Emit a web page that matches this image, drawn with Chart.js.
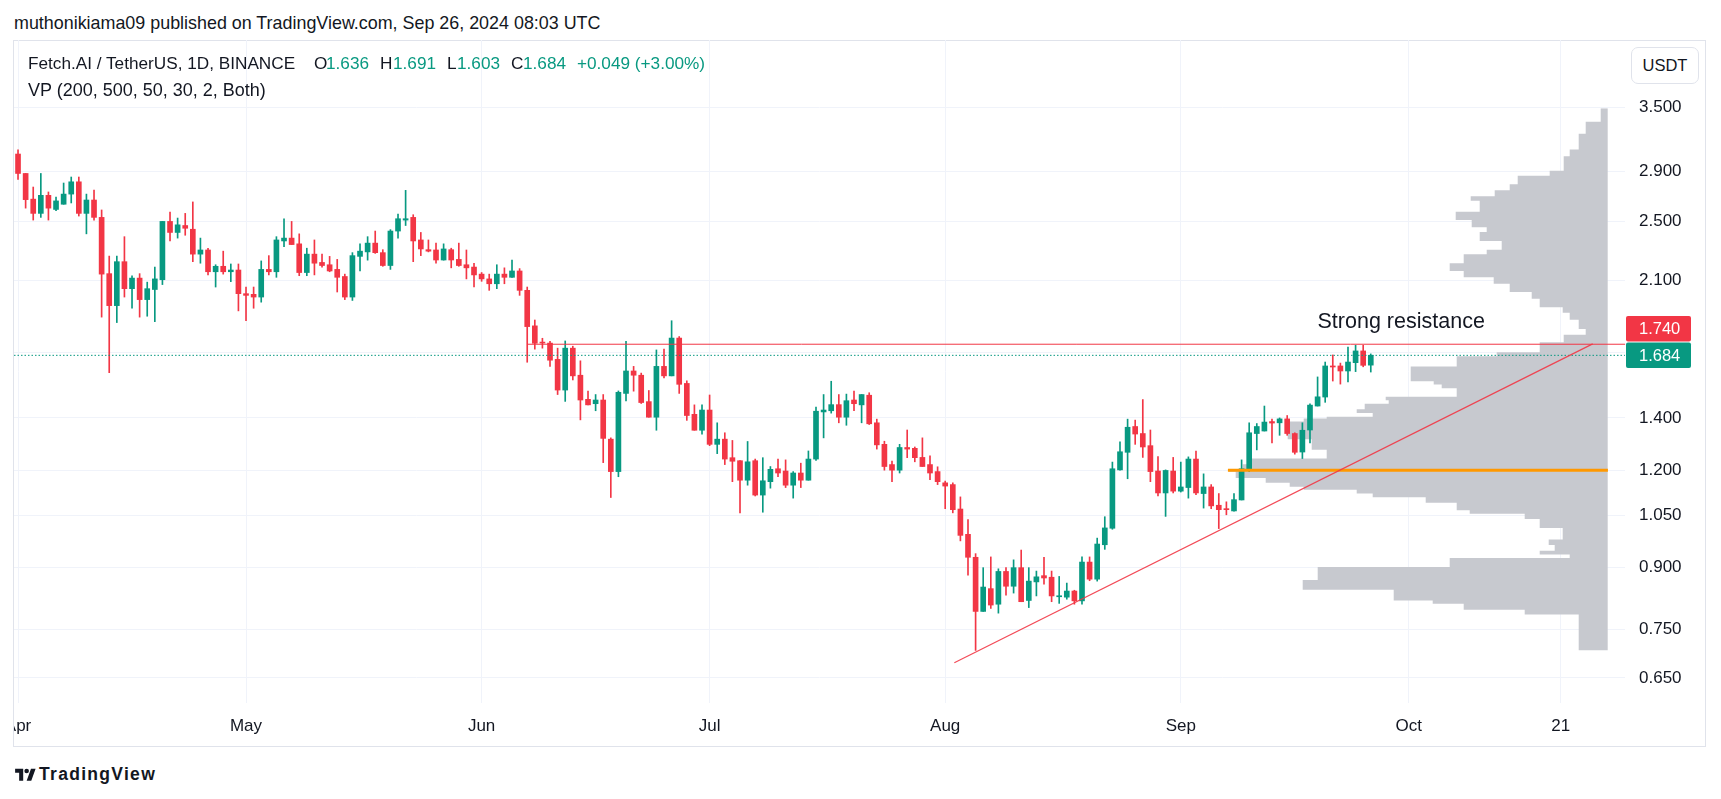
<!DOCTYPE html>
<html>
<head>
<meta charset="utf-8">
<script src="https://cdn.jsdelivr.net/npm/chart.js@4.4.1/dist/chart.umd.min.js"></script>
<style>
  body { margin: 0; width: 1721px; height: 799px; background: #fff; position: relative; overflow: hidden;
         font-family: 'Liberation Sans', Arial, sans-serif; color: #131722; }
  .abs { position: absolute; white-space: nowrap; }
  #frame { left: 13px; top: 40px; width: 1693px; height: 707px; box-sizing: border-box; border: 1px solid #e0e3eb; }
  #wrap { left: 14px; top: 40px; width: 1691px; height: 706px; }
  .lg { position: absolute; top: 53px; font-size: 17.2px; line-height: 20px; white-space: nowrap; }
  .v { color: #089981; }
  #vp { left: 28px; top: 80px; font-size: 18px; line-height: 20px; }
  #usdt { left: 1631px; top: 47px; width: 68px; height: 37px; box-sizing: border-box; border: 1px solid #e0e3eb;
          border-radius: 7px; font-size: 16.5px; line-height: 35px; text-align: center; background: #fff; }
  #logo { left: 15px; top: 763px; font-size: 17.5px; font-weight: 600; letter-spacing: 1.3px; line-height: 22px; }
  #logo svg { vertical-align: -2px; margin-right: 3px; }
</style>
</head>
<body>
<div class="abs" style="left:14px; top:12px; font-size:17.9px; line-height:22px;">muthonikiama09 published on TradingView.com, Sep 26, 2024 08:03 UTC</div>
<div class="abs" id="frame"></div>
<div class="abs" id="wrap"><canvas id="chart" width="1691" height="706"></canvas></div>
<div class="lg" style="left:28px">Fetch.AI / TetherUS, 1D, BINANCE</div>
<div class="lg" style="left:314px">O</div><div class="lg v" style="left:326px">1.636</div>
<div class="lg" style="left:380px">H</div><div class="lg v" style="left:393px">1.691</div>
<div class="lg" style="left:447px">L</div><div class="lg v" style="left:457px">1.603</div>
<div class="lg" style="left:511px">C</div><div class="lg v" style="left:523px">1.684</div>
<div class="lg v" style="left:577px">+0.049 (+3.00%)</div>
<div class="abs" id="vp">VP (200, 500, 50, 30, 2, Both)</div>
<div class="abs" id="usdt">USDT</div>
<div class="abs" id="logo"><svg width="21" height="15" viewBox="0 0 36 26"><path fill="#131722" d="M14 24H7V10H0V3h14v21zM28 24h-8l7.5-21h8L28 24z"/><circle fill="#131722" cx="20" cy="7" r="4"/></svg>TradingView</div>

<script>
// daily candles, index 0 = Apr 1 2024 ... 178 = Sep 26 2024
const open = [
  3.05, 2.88, 2.67, 2.56, 2.70, 2.59, 2.63, 2.71, 2.81, 2.56,
  2.663, 2.53, 2.143, 1.95, 2.22, 2.05, 2.115, 1.985, 2.045, 2.105,
  2.50, 2.42, 2.47, 2.443, 2.27, 2.298, 2.155, 2.19, 2.155, 2.166,
  2.02, 2.016, 2.00, 2.17, 2.155, 2.36, 2.38, 2.34, 2.15, 2.27,
  2.215, 2.20, 2.17, 2.125, 2.00, 2.255, 2.285, 2.345, 2.28, 2.195,
  2.43, 2.51, 2.53, 2.367, 2.30, 2.298, 2.231, 2.30, 2.235, 2.20,
  2.185, 2.14, 2.11, 2.08, 2.14, 2.12, 2.16, 2.04, 1.837, 1.749,
  1.746, 1.664, 1.52, 1.72, 1.588, 1.479, 1.46, 1.476, 1.315, 1.195,
  1.505, 1.608, 1.588, 1.469, 1.403, 1.63, 1.585, 1.772, 1.55, 1.415,
  1.35, 1.433, 1.295, 1.315, 1.245, 1.234, 1.165, 1.234, 1.115, 1.16,
  1.205, 1.197, 1.148, 1.19, 1.165, 1.24, 1.425, 1.43, 1.456, 1.403,
  1.476, 1.455, 1.497, 1.38, 1.295, 1.22, 1.20, 1.283, 1.28, 1.246,
  1.22, 1.195, 1.156, 1.15, 1.07, 0.993, 0.928, 0.791, 0.846, 0.808,
  0.89, 0.852, 0.90, 0.817, 0.863, 0.879, 0.875, 0.826, 0.825, 0.84,
  0.816, 0.915, 0.87, 0.963, 1.011, 1.201, 1.265, 1.365, 1.337, 1.29,
  1.197, 1.122, 1.197, 1.128, 1.14, 1.24, 1.12, 1.142, 1.082, 1.07,
  1.064, 1.099, 1.203, 1.337, 1.347, 1.385, 1.38, 1.396, 1.337, 1.266,
  1.351, 1.45, 1.489, 1.632, 1.632, 1.608, 1.648, 1.706, 1.636
];
const high = [
  3.087, 2.88, 2.767, 2.88, 2.727, 2.687, 2.80, 2.85, 2.85, 2.71,
  2.743, 2.586, 2.257, 2.257, 2.39, 2.13, 2.143, 2.09, 2.185, 2.50,
  2.57, 2.525, 2.56, 2.648, 2.38, 2.31, 2.20, 2.29, 2.205, 2.205,
  2.06, 2.06, 2.225, 2.26, 2.39, 2.52, 2.50, 2.41, 2.31, 2.367,
  2.27, 2.255, 2.235, 2.14, 2.28, 2.34, 2.39, 2.43, 2.30, 2.44,
  2.555, 2.74, 2.55, 2.42, 2.367, 2.345, 2.34, 2.31, 2.345, 2.298,
  2.21, 2.15, 2.14, 2.20, 2.18, 2.23, 2.175, 2.06, 1.869, 1.771,
  1.755, 1.72, 1.757, 1.73, 1.657, 1.515, 1.50, 1.50, 1.32, 1.516,
  1.755, 1.63, 1.598, 1.518, 1.711, 1.715, 1.865, 1.78, 1.562, 1.455,
  1.455, 1.498, 1.38, 1.34, 1.31, 1.234, 1.306, 1.24, 1.245, 1.213,
  1.24, 1.237, 1.195, 1.225, 1.27, 1.446, 1.50, 1.56, 1.50, 1.502,
  1.515, 1.50, 1.508, 1.395, 1.307, 1.233, 1.295, 1.351, 1.285, 1.32,
  1.252, 1.212, 1.162, 1.156, 1.109, 1.037, 0.938, 0.90, 0.929, 0.897,
  0.90, 0.921, 0.948, 0.90, 0.891, 0.928, 0.891, 0.877, 0.86, 0.842,
  0.929, 0.929, 0.982, 1.046, 1.229, 1.305, 1.395, 1.391, 1.478, 1.351,
  1.249, 1.201, 1.246, 1.229, 1.248, 1.27, 1.187, 1.15, 1.12, 1.093,
  1.12, 1.237, 1.38, 1.377, 1.45, 1.395, 1.40, 1.41, 1.34, 1.38,
  1.46, 1.58, 1.651, 1.686, 1.646, 1.725, 1.735, 1.735, 1.691
];
const low = [
  2.83, 2.60, 2.51, 2.53, 2.51, 2.58, 2.63, 2.64, 2.54, 2.41,
  2.51, 1.885, 1.60, 1.855, 2.00, 1.935, 1.885, 1.89, 1.86, 2.075,
  2.36, 2.38, 2.40, 2.22, 2.21, 2.135, 2.06, 2.14, 2.093, 1.92,
  1.865, 1.935, 1.97, 2.135, 2.12, 2.32, 2.335, 2.13, 2.13, 2.135,
  2.185, 2.155, 2.03, 1.985, 1.98, 2.16, 2.23, 2.275, 2.19, 2.17,
  2.38, 2.47, 2.22, 2.26, 2.285, 2.21, 2.23, 2.18, 2.19, 2.11,
  2.06, 2.095, 2.04, 2.05, 2.08, 2.12, 2.01, 1.65, 1.715, 1.72,
  1.63, 1.50, 1.47, 1.566, 1.392, 1.455, 1.43, 1.227, 1.107, 1.177,
  1.472, 1.515, 1.461, 1.403, 1.35, 1.575, 1.585, 1.505, 1.39, 1.35,
  1.334, 1.29, 1.26, 1.22, 1.16, 1.058, 1.148, 1.112, 1.06, 1.138,
  1.177, 1.14, 1.105, 1.14, 1.165, 1.235, 1.32, 1.42, 1.38, 1.37,
  1.43, 1.38, 1.373, 1.277, 1.20, 1.16, 1.19, 1.245, 1.23, 1.213,
  1.167, 1.15, 1.071, 1.058, 0.974, 0.88, 0.705, 0.791, 0.798, 0.787,
  0.83, 0.835, 0.814, 0.80, 0.828, 0.857, 0.814, 0.81, 0.82, 0.808,
  0.808, 0.866, 0.865, 0.95, 1.008, 1.20, 1.17, 1.295, 1.246, 1.16,
  1.112, 1.047, 1.122, 1.125, 1.105, 1.116, 1.073, 1.071, 1.01, 1.052,
  1.063, 1.099, 1.195, 1.274, 1.347, 1.30, 1.33, 1.33, 1.258, 1.242,
  1.30, 1.45, 1.466, 1.561, 1.547, 1.557, 1.605, 1.628, 1.603
];
const close = [
  2.88, 2.666, 2.56, 2.70, 2.60, 2.656, 2.71, 2.81, 2.56, 2.663,
  2.53, 2.14, 1.95, 2.22, 2.05, 2.115, 1.985, 2.05, 2.11, 2.50,
  2.42, 2.475, 2.45, 2.27, 2.298, 2.155, 2.19, 2.155, 2.166, 2.02,
  2.01, 2.00, 2.17, 2.155, 2.367, 2.38, 2.335, 2.15, 2.27, 2.21,
  2.195, 2.16, 2.12, 2.00, 2.26, 2.29, 2.345, 2.28, 2.195, 2.43,
  2.52, 2.52, 2.36, 2.305, 2.29, 2.231, 2.305, 2.231, 2.195, 2.18,
  2.135, 2.11, 2.08, 2.14, 2.12, 2.16, 2.04, 1.833, 1.745, 1.746,
  1.66, 1.52, 1.72, 1.585, 1.476, 1.455, 1.476, 1.318, 1.195, 1.51,
  1.608, 1.588, 1.465, 1.403, 1.63, 1.585, 1.772, 1.546, 1.41, 1.35,
  1.433, 1.295, 1.315, 1.24, 1.232, 1.165, 1.23, 1.115, 1.163, 1.203,
  1.19, 1.148, 1.19, 1.165, 1.24, 1.428, 1.433, 1.456, 1.403, 1.473,
  1.46, 1.50, 1.376, 1.293, 1.213, 1.20, 1.283, 1.277, 1.245, 1.213,
  1.19, 1.16, 1.145, 1.068, 0.99, 0.928, 0.791, 0.85, 0.806, 0.89,
  0.852, 0.90, 0.814, 0.865, 0.876, 0.873, 0.828, 0.828, 0.84, 0.816,
  0.915, 0.87, 0.965, 1.012, 1.205, 1.267, 1.362, 1.335, 1.285, 1.195,
  1.122, 1.199, 1.128, 1.142, 1.24, 1.122, 1.142, 1.08, 1.068, 1.068,
  1.10, 1.205, 1.34, 1.365, 1.383, 1.379, 1.396, 1.337, 1.265, 1.35,
  1.454, 1.49, 1.632, 1.627, 1.608, 1.651, 1.706, 1.635, 1.684
];

// time axis (days since Apr 1)
const timeTicks = [0, 30, 61, 91, 122, 153, 183, 203];
const timeLabels = ['Apr', 'May', 'Jun', 'Jul', 'Aug', 'Sep', 'Oct', '21'];
const priceTicks = [0.65, 0.75, 0.9, 1.05, 1.2, 1.4, 1.7, 2.1, 2.5, 2.9, 3.5];
const hiddenPriceLabels = [1.7];

// volume profile: lower price of each row and its volume
const vpLow = [
  0.705, 0.784, 0.795, 0.809, 0.817, 0.843, 0.868, 0.902, 0.926, 0.936,
  0.946, 0.962, 0.978, 1.012, 1.039, 1.055, 1.066, 1.090, 1.108, 1.120,
  1.133, 1.143, 1.156, 1.173, 1.194, 1.204, 1.221, 1.242, 1.275, 1.315,
  1.385, 1.398, 1.405, 1.420, 1.436, 1.460, 1.475, 1.490, 1.510, 1.528,
  1.545, 1.560, 1.630, 1.680, 1.700, 1.750, 1.790, 1.820, 1.870, 1.910,
  1.940, 1.990, 2.030, 2.080, 2.120, 2.160, 2.210, 2.270, 2.300, 2.360,
  2.423, 2.458, 2.510, 2.573, 2.658, 2.693, 2.740, 2.790, 2.860, 2.904,
  3.030, 3.090, 3.237, 3.356
];
const vpVolume = [
  29, 83, 144, 175, 214, 305, 290, 158, 38, 68,
  53, 59, 45, 68, 83, 138, 151, 182, 235, 251,
  304, 318, 342, 372, 379, 365, 356, 281, 296, 320,
  304, 281, 235, 251, 243, 219, 222, 151, 151, 166,
  174, 197, 151, 111, 68, 44, 22, 29, 38, 45,
  68, 76, 98, 114, 144, 158, 144, 121, 106, 128,
  121, 136, 152, 128, 137, 113, 98, 90, 58, 44,
  38, 29, 22, 7
];
const vpTop = 3.49;

const lastPrice = 1.684;
const resistance = 1.740;
const resistanceFrom = 67;
const pocPrice = 1.2;
const pocDays = [159.2, 209.2];
const trendDays = [123.2, 207.2];
const trendPrices = [0.68, 1.742];
const note = { text: 'Strong resistance', day: 182, price: 1.825 };

const UP = '#089981', DOWN = '#F23645', GRID = '#f0f3fa', TEXT = '#131722';
const FONT = "'Liberation Sans', Arial, sans-serif";
const X_MIN = -0.53, X_MAX = 211.45;

const days = close.map((_, i) => i);
const candleColors = days.map(i => close[i] >= open[i] ? UP : DOWN);
const wicks = days.map(i => ({ x: i, y: [low[i], high[i]] }));
const bodies = days.map(i => ({ x: i, y: [Math.min(open[i], close[i]), Math.max(open[i], close[i])] }));
const vpPoints = vpLow.map((p, i) => ({ x: vpVolume[i], y: p }));
vpPoints.push({ x: 0, y: vpTop });

const priceTags = {
    id: 'priceTags',
    afterDraw(chart) {
        const { ctx, chartArea, scales: { y } } = chart;
        const h = 25.5, w = 65, x0 = chartArea.right + 1;
        const gTop = y.getPixelForValue(lastPrice) - h / 2;
        let rTop = y.getPixelForValue(resistance) - h / 2;
        if (rTop + h > gTop - 1) rTop = gTop - 1 - h;
        ctx.save();
        ctx.font = '16.5px ' + FONT;
        ctx.textBaseline = 'middle';
        ctx.textAlign = 'left';
        [[lastPrice, UP, gTop], [resistance, DOWN, rTop]].forEach(([v, c, top]) => {
            ctx.fillStyle = c;
            ctx.beginPath();
            ctx.roundRect(x0, top, w, h, 2);
            ctx.fill();
            ctx.fillStyle = '#fff';
            ctx.fillText(v.toFixed(3), chartArea.right + 14, top + h / 2 + 1);
        });
        ctx.restore();
    }
};

const noteText = {
    id: 'noteText',
    afterDatasetsDraw(chart) {
        const { ctx, scales: { x, y } } = chart;
        ctx.save();
        ctx.font = '21.5px ' + FONT;
        ctx.fillStyle = TEXT;
        ctx.textAlign = 'center';
        ctx.textBaseline = 'alphabetic';
        ctx.fillText(note.text, x.getPixelForValue(note.day), y.getPixelForValue(note.price));
        ctx.restore();
    }
};

new Chart(document.getElementById('chart'), {
    type: 'bar',
    data: {
        datasets: [
            {
                type: 'line', label: 'trend',
                data: trendDays.map((d, i) => ({ x: d, y: trendPrices[i] })),
                borderColor: 'rgba(242,54,69,0.9)', borderWidth: 1.2, pointRadius: 0, tension: 0
            },
            {
                type: 'line', label: 'poc',
                data: pocDays.map(d => ({ x: d, y: pocPrice })),
                borderColor: '#ff9800', borderWidth: 3, pointRadius: 0
            },
            {
                type: 'line', label: 'resistance',
                data: [{ x: resistanceFrom, y: resistance }, { x: X_MAX, y: resistance }],
                borderColor: DOWN, borderWidth: 1, pointRadius: 0
            },
            {
                type: 'line', label: 'last',
                data: [{ x: X_MIN, y: lastPrice }, { x: X_MAX, y: lastPrice }],
                borderColor: UP, borderWidth: 1, borderDash: [1.5, 2], pointRadius: 0
            },
            {
                label: 'body', data: bodies, backgroundColor: candleColors,
                barThickness: 5, grouped: false, minBarLength: 1
            },
            {
                label: 'wick', data: wicks, backgroundColor: candleColors,
                barThickness: 1, grouped: false, minBarLength: 1
            },
            {
                type: 'line', label: 'vp', indexAxis: 'y', xAxisID: 'vp', yAxisID: 'y',
                data: vpPoints, stepped: 'after', fill: 'origin',
                backgroundColor: '#c7c9cf', borderWidth: 0, pointRadius: 0
            }
        ]
    },
    options: {
        responsive: false,
        animation: false,
        events: [],
        layout: { padding: 0 },
        plugins: { legend: { display: false }, tooltip: { enabled: false } },
        scales: {
            x: {
                type: 'linear', position: 'bottom', min: X_MIN, max: X_MAX, offset: false, bounds: 'data',
                afterBuildTicks: s => { s.ticks = timeTicks.map(v => ({ value: v })); },
                afterFit: s => { s.height = 43; s.paddingLeft = 0; s.paddingRight = 0; },
                grid: { color: GRID, drawTicks: false, offset: false },
                border: { display: false },
                ticks: {
                    autoSkip: false, maxRotation: 0, padding: 13, color: TEXT,
                    font: { size: 17, family: FONT },
                    callback: (v, i) => timeLabels[i]
                }
            },
            y: {
                type: 'logarithmic', position: 'right', min: 0.6037, max: 4.27, bounds: 'data',
                afterBuildTicks: s => { s.ticks = priceTicks.map(v => ({ value: v })); },
                afterFit: s => { s.width = 80; s.paddingTop = 0; s.paddingBottom = 0; },
                grid: { color: GRID, drawTicks: false },
                border: { display: false },
                ticks: {
                    autoSkip: false, padding: 14, color: TEXT,
                    font: { size: 17, family: FONT },
                    callback: (v, i) => hiddenPriceLabels.includes(priceTicks[i]) ? '' : priceTicks[i].toFixed(3)
                }
            },
            vp: {
                type: 'linear', axis: 'x', position: 'top', display: false, reverse: true, bounds: 'data',
                min: -17.3, max: 1593.7,
                afterBuildTicks: s => { s.ticks = []; }
            }
        }
    },
    plugins: [noteText, priceTags]
});
</script>
</body>
</html>
